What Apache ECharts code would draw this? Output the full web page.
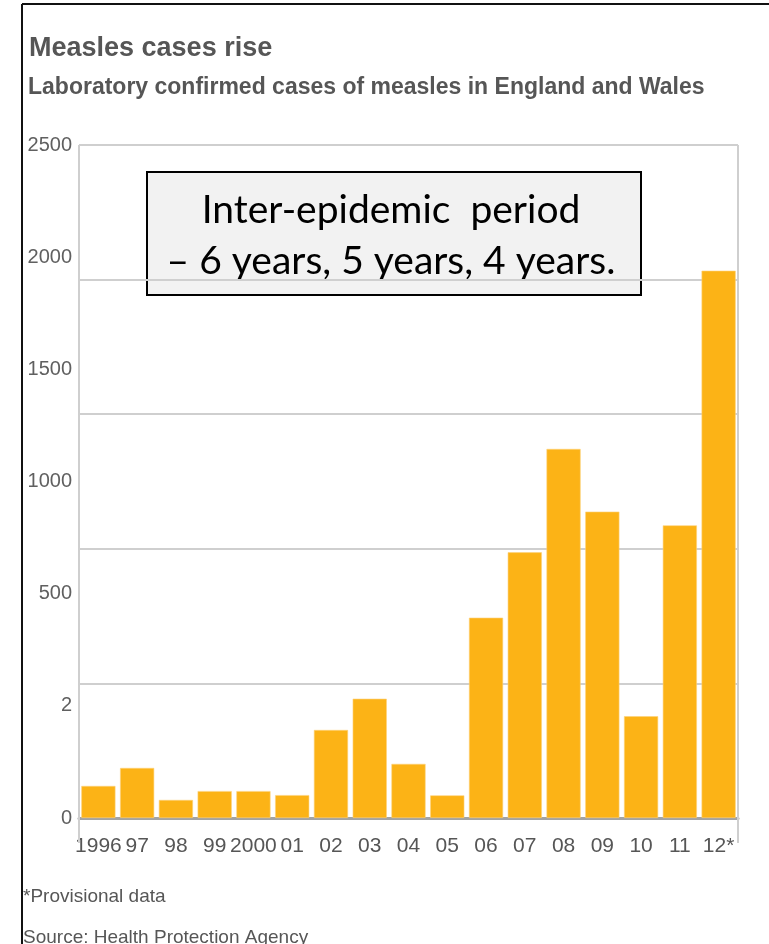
<!DOCTYPE html>
<html>
<head>
<meta charset="utf-8">
<title>Measles cases rise</title>
<script src="https://cdn.jsdelivr.net/npm/echarts@6/dist/echarts.min.js"></script>
<style>
  html, body { margin: 0; padding: 0; background: #ffffff; }
  #chart { width: 769px; height: 944px; }
</style>
</head>
<body>
<div id="chart"></div>
<script>
// Laboratory confirmed measles cases, England and Wales (2012 provisional)
const years = ['1996', '97', '98', '99', '2000', '01', '02', '03', '04', '05',
               '06', '07', '08', '09', '10', '11', '12*'];
const cases = [119, 186, 67, 100, 100, 85, 327, 443, 201, 84,
               744, 987, 1371, 1138, 378, 1087, 2033];
// Printed tick labels on the vertical scale, bottom to top
const yTickLabels = ['0', '2', '500', '1000', '1500', '2000', '2500'];

const titleText = 'Measles cases rise';
const subtitleText = 'Laboratory confirmed cases of measles in England and Wales';
const noteText = '*Provisional data';
const sourceText = 'Source: Health Protection Agency';
const boxLines = ['Inter-epidemic  period', '\u2013 6 years, 5 years, 4 years.'];

const sans = '"Liberation Sans", Arial, Helvetica, sans-serif';
const textGrey = '#565656';
const barColor = '#fcb316';

const G = { left: 79, right: 31, top: 145, bottom: 126 };
const W = 769, H = 944;
const plotRight = W - G.right;
const plotBottom = H - G.bottom;

const chart = echarts.init(document.getElementById('chart'), null, { renderer: 'canvas' });

chart.setOption({
  animation: false,
  backgroundColor: '#ffffff',
  title: [
    {
      text: titleText, left: 24, top: 30,
      textStyle: { fontFamily: sans, fontSize: 27, fontWeight: 'bold', color: textGrey }
    },
    {
      text: subtitleText, left: 23, top: 71,
      textStyle: { fontFamily: sans, fontSize: 23, fontWeight: 'bold', color: textGrey }
    }
  ],
  grid: { left: G.left, right: G.right, top: G.top, bottom: G.bottom, containLabel: false },
  xAxis: {
    type: 'category',
    data: years,
    axisLine: { show: true, lineStyle: { color: '#a3a3a3', width: 3 } },
    axisTick: { show: false },
    axisLabel: {
      interval: 0, margin: 18,
      fontFamily: sans, fontSize: 21, color: textGrey
    }
  },
  yAxis: [
    {
      type: 'value', min: 0, max: 2500, interval: 500,
      axisLine: { show: false }, axisTick: { show: false },
      axisLabel: { show: false },
      splitLine: { show: true, lineStyle: { color: '#cfcfcf', width: 2 } }
    },
    {
      type: 'value', min: 0, max: 6, interval: 1, position: 'left',
      axisLine: { show: false }, axisTick: { show: false },
      splitLine: { show: false },
      axisLabel: {
        margin: 7, fontFamily: sans, fontSize: 20, color: '#606060',
        padding: [0, 0, 5, 0],
        formatter: function (v) { return yTickLabels[Math.round(v)]; }
      }
    }
  ],
  series: [{
    type: 'bar',
    data: cases,
    barCategoryGap: '12%',
    itemStyle: { color: barColor, borderColor: '#fdd27a', borderWidth: 0.6 },
    z: 2
  }],
  graphic: [
    // outer frame (top and left edges)
    { type: 'line', shape: { x1: 22, y1: 4, x2: W, y2: 4 },
      style: { stroke: '#111', lineWidth: 2 }, z: 10 },
    { type: 'line', shape: { x1: 22, y1: 4, x2: 22, y2: H },
      style: { stroke: '#111', lineWidth: 2 }, z: 10 },
    // plot side rules, extending below the baseline
    { type: 'line', shape: { x1: G.left, y1: G.top, x2: G.left, y2: plotBottom + 25 },
      style: { stroke: '#cfcfcf', lineWidth: 2 }, z: 1 },
    { type: 'line', shape: { x1: plotRight, y1: G.top, x2: plotRight, y2: plotBottom + 25 },
      style: { stroke: '#cfcfcf', lineWidth: 2 }, z: 1 },
    // annotation box
    {
      type: 'group', z: 20,
      children: [
        { type: 'rect', shape: { x: 147, y: 172, width: 494, height: 123 },
          style: { fill: '#f2f2f2', stroke: '#000', lineWidth: 2 } },
        { type: 'text', x: 391, y: 236,
          style: {
            text: boxLines.join('\n'), align: 'center', verticalAlign: 'middle',
            font: '39px Lato, "Open Sans", sans-serif', lineHeight: 51, fill: '#000'
          } }
      ]
    },
    // footnotes
    { type: 'text', left: 23, top: 887, z: 10,
      style: { text: noteText, font: '19px ' + sans, fill: textGrey } },
    { type: 'text', left: 23, top: 928, z: 10,
      style: { text: sourceText, font: '19px ' + sans, fill: textGrey } }
  ]
});
</script>
</body>
</html>
